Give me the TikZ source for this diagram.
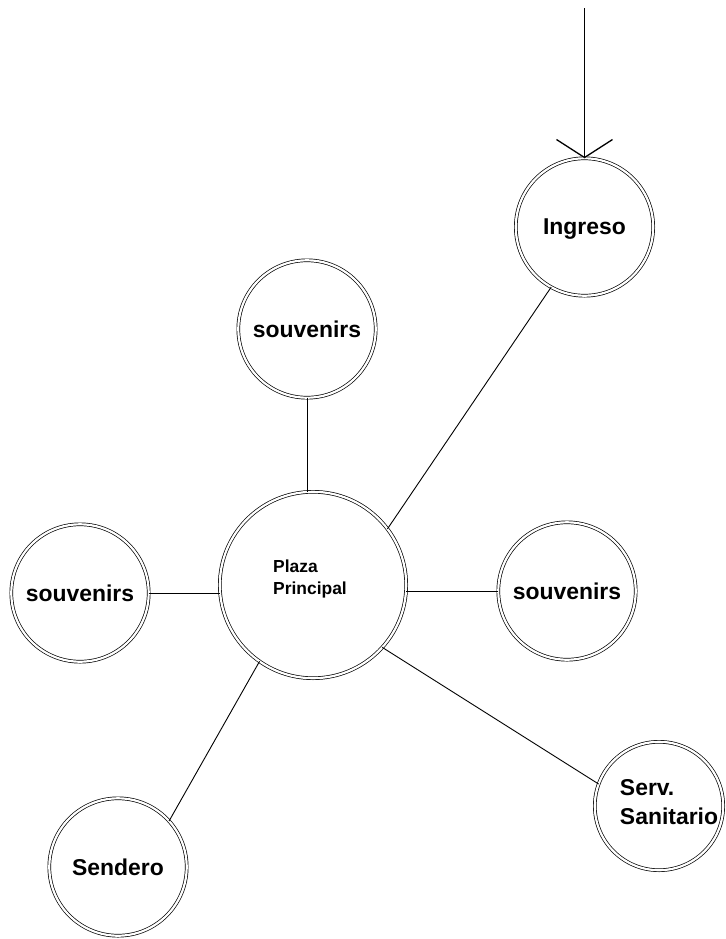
\documentclass[tikz,border=0pt]{standalone}
\usepackage{fontspec}
\setmainfont{Liberation Sans}
\usetikzlibrary{arrows.meta}
\begin{document}
\begin{tikzpicture}[x=1bp,y=-1bp,
  place/.style={circle, draw, double, line width=0.7bp, double distance=2.2bp,
    inner sep=0pt, outer sep=0pt, minimum size=137.4bp, text depth=0pt,
    font=\fontsize{23}{27}\selectfont\bfseries},
  tag/.style={align=left, inner sep=0pt},
  link/.style={line width=0.9bp},
  entry/.style={line width=1.3bp, -{Straight Barb[length=18bp,width=56bp,line width=1.3bp]}}
]
\fill[white] (0,0) rectangle (726,939);
\useasboundingbox (0,0) rectangle (726,939);

\node[place, minimum size=186.4bp] (plaza) at (313,585) {};
\node[tag, font=\fontsize{17.5}{22}\selectfont\bfseries] (plazatext) at (310,579) {Plaza\\Principal};

\node[place] (ingreso) at (584.5,227) {Ingreso};
\node[place] (souvT) at (307,329) {souvenirs};
\node[place] (souvL) at (80,593) {souvenirs};
\node[place] (souvR) at (567,591) {souvenirs};
\node[place] (sendero) at (118,867) {Sendero};
\node[place, minimum size=128.4bp] (serv) at (659,806) {};
\node[tag, font=\fontsize{23}{29}\selectfont\bfseries] (servtext) at (669,802.5) {Serv.\\Sanitario};

\coordinate (entrytop) at (584.5,8);
\draw[entry] (entrytop) -- (ingreso.north);

\draw[link] (plaza.37) -- (ingreso.241.6);
\draw[link] (souvT.south) -- (souvT.south |- plaza.north);
\draw[link] (souvL.east) -- (souvL.east -| plaza.west);
\draw[link] (souvR.west) -- (souvR.west -| plaza.east);
\draw[link] (plaza.235) -- (sendero.42.6);
\draw[link] (plaza.318) -- (serv.160.7);
\end{tikzpicture}
\end{document}
